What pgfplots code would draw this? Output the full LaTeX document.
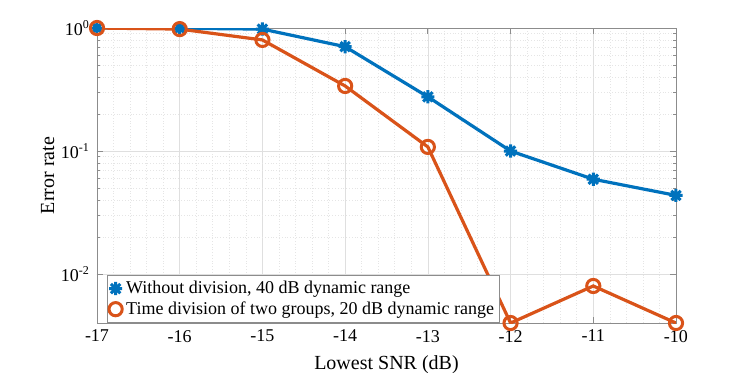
\documentclass[border=0pt]{standalone}
\usepackage{fontspec}
\setmainfont{Liberation Serif}
\usepackage{pgfplots}
\pgfplotsset{compat=1.18}

\definecolor{mblue}{rgb}{0,0.447,0.741}
\definecolor{morange}{rgb}{0.85,0.325,0.098}
\definecolor{boxgray}{gray}{0.55}

% MATLAB-like '*' marker: plus and cross together
\pgfdeclareplotmark{star8}{%
  \pgfpathmoveto{\pgfqpoint{0pt}{\pgfplotmarksize}}%
  \pgfpathlineto{\pgfqpoint{0pt}{-\pgfplotmarksize}}%
  \pgfpathmoveto{\pgfqpoint{\pgfplotmarksize}{0pt}}%
  \pgfpathlineto{\pgfqpoint{-\pgfplotmarksize}{0pt}}%
  \pgfpathmoveto{\pgfqpoint{0.707\pgfplotmarksize}{0.707\pgfplotmarksize}}%
  \pgfpathlineto{\pgfqpoint{-0.707\pgfplotmarksize}{-0.707\pgfplotmarksize}}%
  \pgfpathmoveto{\pgfqpoint{0.707\pgfplotmarksize}{-0.707\pgfplotmarksize}}%
  \pgfpathlineto{\pgfqpoint{-0.707\pgfplotmarksize}{0.707\pgfplotmarksize}}%
  \pgfusepathqstroke}

\begin{document}
\begin{tikzpicture}
\path[use as bounding box] (-48.5pt,-24.5pt) rectangle ++(373.5pt,186pt);
\begin{axis}[
    scale only axis,
    width=289.5pt, height=147.5pt,
    ymode=log,
    xmin=-17, xmax=-10,
    ymin=0.004, ymax=1,
    xtick={-17,-16,...,-10},
    minor x tick num=4,
    ytick={0.01,0.1,1},
    yticklabels={10\textsuperscript{-2},10\textsuperscript{-1},10\textsuperscript{0}},
    /pgf/number format/assume math mode=true,
    tick label style={font=\fontsize{9}{10}\selectfont},
    label style={font=\fontsize{10}{12}\selectfont},
    xlabel={Lowest SNR (dB)},
    ylabel={Error rate},
    ylabel style={yshift=-3.5pt},
    grid=both,
    major grid style={gray!25, line width=0.3pt},
    minor grid style={gray!20, densely dotted, line width=0.3pt},
    axis line style={boxgray, line width=0.4pt},
    every tick/.style={boxgray, line width=0.4pt},
    major tick length=3pt,
    minor tick length=1.6pt,
    minor x tick style={draw=none},
    legend cell align=left,
    legend style={at={(rel axis cs:0.0173,0)}, anchor=south west,
        draw=boxgray, line width=0.4pt, inner sep=0.8pt,
        font=\fontsize{9}{10.5}\selectfont,
        row sep=-1.5pt, /tikz/every even column/.append style={column sep=0pt}},
    legend image code/.code={\draw[#1] plot coordinates {(0.1cm,0cm)};},
]
\addplot[mblue, line width=1.6pt, mark=star8, mark size=3.3pt,
    mark options={line width=1.5pt}]
  coordinates {(-17,1.0) (-16,0.995) (-15,0.98) (-14,0.705) (-13,0.276) (-12,0.1) (-11,0.059) (-10,0.0436)};
\addplot[morange, line width=1.6pt, mark=o, mark size=3.3pt,
    mark options={line width=1.5pt}]
  coordinates {(-17,1.0) (-16,0.98) (-15,0.8) (-14,0.338) (-13,0.108) (-12,0.004) (-11,0.008) (-10,0.004)};
\legend{{Without division, 40 dB dynamic range}, {Time division of two groups, 20 dB dynamic range}}
\end{axis}
\end{tikzpicture}
\end{document}
